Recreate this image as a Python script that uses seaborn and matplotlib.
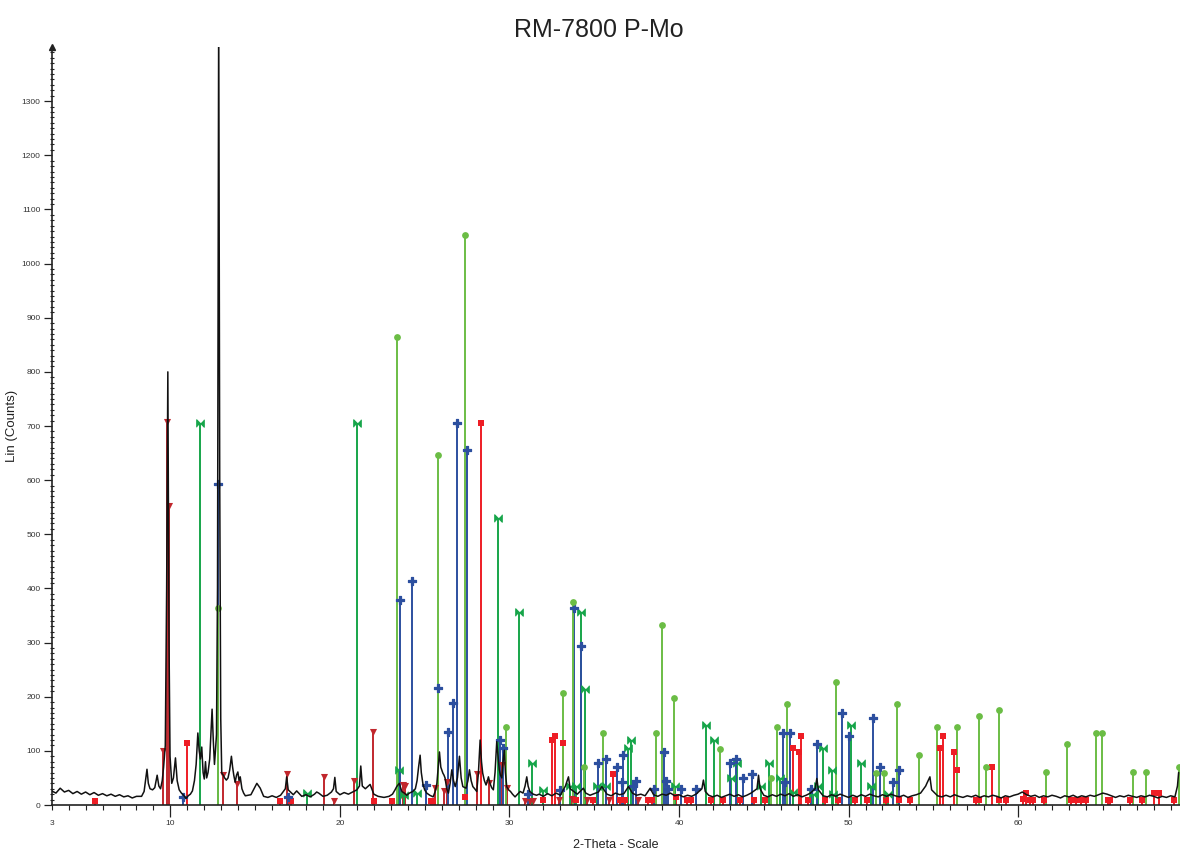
import numpy as np
import matplotlib
matplotlib.use("Agg")
import matplotlib.pyplot as plt
import matplotlib.transforms as mtransforms
import seaborn as sns

# ---------------------------------------------------------------------------
# Measured scan
# ---------------------------------------------------------------------------
# background level (counts) on a 0.25 deg grid, 3.0 .. 69.5 deg 2-theta
scan_start = 3.0
scan_step = 0.25
background = [
    26, 22, 31, 24, 27, 21, 25, 20, 24, 19, 23, 18, 21, 17, 20, 16, 19, 15, 17, 13, 16, 14,
    30, 32, 28, 40, 42, 120, 60, 60, 28, 18, 15, 22, 60, 90, 48, 60, 120, 200, 60, 48, 65, 50, 58, 26,
    16, 19, 22, 30, 16, 14, 17, 14, 18, 22, 15, 19, 22, 16, 19, 15, 20, 22, 16, 18, 24, 30, 19, 23,
    20, 24, 28, 50, 30, 34, 20, 16, 14,
    15, 18, 28, 40, 22, 20, 24, 35, 85, 28, 20, 15, 50, 65, 40, 40, 40, 80, 34, 38, 45, 28, 110, 48,
    50, 30, 117, 52, 95, 26, 18, 21, 23, 50, 24, 19,
    20, 16, 21, 17, 22, 18, 24, 28, 26, 20, 24, 22, 18, 21, 24, 26, 20, 17, 22, 19, 21, 26, 22, 18,
    20, 17, 24, 19, 16, 20, 18, 22, 17, 19, 15, 18, 16, 20, 24, 28, 18, 15, 18, 14, 17, 20, 16, 19,
    15, 18, 22, 26, 32, 18, 15, 19, 16, 20, 17, 21, 16, 19, 15, 18, 22, 28, 24, 17, 15, 19, 16, 20,
    17, 14, 18, 15, 19, 16, 20, 17, 15, 19, 16, 20, 17, 15, 18, 14, 17, 19, 22, 28, 40, 22, 17, 15,
    18, 15, 19, 16, 14, 17, 15, 18, 14, 17, 15, 18, 16, 13, 17, 15, 18, 20, 24, 19, 16, 18, 14, 17,
    15, 18, 16, 13, 17, 15, 18, 14, 17, 15, 18, 16, 19, 22, 20, 17, 14, 17, 15, 18, 16, 14, 17, 15,
    18, 16, 13, 16, 14, 17, 15, 40,
]

# shape vertices of the reflections in the scan (2-theta, counts)
profile_theta = [
    8.30, 8.45, 8.55, 8.62, 8.70, 8.80, 8.95, 9.08, 9.22, 9.32, 9.42, 9.52, 9.60, 9.70, 9.78,
    9.85, 9.92, 9.98, 10.08, 10.18, 10.30, 10.40, 10.52, 10.65, 10.78, 10.92, 11.05, 11.18, 11.30,
    11.42, 11.52, 11.62, 11.70, 11.77, 11.85, 11.93, 12.00, 12.07, 12.14, 12.22, 12.32, 12.40,
    12.46, 12.53, 12.60, 12.66, 12.72, 12.78, 12.85, 12.91, 12.97, 13.03, 13.12, 13.20, 13.30,
    13.40, 13.50, 13.60, 13.67, 13.74, 13.82, 13.90, 13.98, 14.05, 14.12, 14.22, 14.32, 14.42,
    15.10, 15.30, 16.78, 16.86, 16.95, 17.45, 18.63, 19.62, 19.70, 19.78, 21.15, 21.23, 21.32,
    21.78,
    22.60, 22.90, 23.10, 23.25, 23.35, 23.50, 23.65, 23.80, 23.94, 24.10, 24.30, 24.45, 24.55,
    24.64, 24.73, 24.80, 24.90, 25.00, 25.12, 25.30, 25.50, 25.62, 25.72, 25.80, 25.87, 25.95,
    26.07, 26.14, 26.20, 26.30, 26.40, 26.50, 26.60, 26.70, 26.80, 26.93, 27.05, 27.15, 27.25,
    27.44, 27.55, 27.64, 27.74, 27.84, 27.95, 28.07, 28.17, 28.27, 28.35, 28.42, 28.52, 28.62,
    28.70, 28.76, 28.85, 28.95, 29.05, 29.15, 29.25, 29.33, 29.40, 29.47, 29.55, 29.62, 29.70,
    29.76, 29.84, 29.95, 30.06, 30.18, 30.33, 30.48, 30.63, 30.80, 30.92, 31.02, 31.10, 31.20,
    31.40, 31.60,
    33.30, 33.48, 33.58, 34.36, 35.45, 37.02, 38.30, 41.35, 41.44, 41.55, 44.60, 44.69, 44.78,
    48.03, 48.13, 48.22, 54.55, 54.62, 54.80, 54.90, 69.40, 69.47,
]
profile_counts = [
    16, 25, 50, 66, 40, 30, 28, 32, 55, 35, 30, 45, 70, 110, 400,
    800, 300, 90, 40, 50, 87, 45, 28, 22, 18, 12, 17, 20, 26,
    45, 75, 133, 100, 85, 107, 60, 48, 80, 50, 60, 85, 140,
    177, 120, 75, 101, 130, 400, 1480, 600, 160, 59, 55, 50, 46,
    50, 65, 90, 70, 55, 42, 55, 61, 45, 52, 30, 22, 17,
    40, 31, 30, 52, 28, 26, 24, 30, 51, 25, 35, 72, 35,
    38,
    14, 16, 20, 28, 34, 40, 25, 22, 18, 22, 25, 30, 45,
    70, 92, 60, 38, 28, 22, 18, 15, 25, 40, 70, 98, 70,
    59, 55, 50, 30, 22, 40, 65, 45, 34, 50, 90, 50, 34,
    31, 45, 65, 45, 34, 30, 25, 60, 120, 80, 59, 45, 37,
    45, 52, 40, 32, 28, 60, 117, 90, 65, 55, 50, 80, 101,
    60, 34, 28, 25, 20, 15, 20, 25, 22, 35, 52, 35, 25,
    20, 18,
    35, 52, 30, 31, 34, 34, 31, 30, 46, 25, 30, 55, 30,
    30, 49, 28, 35, 40, 52, 28, 35, 60,
]

# ---------------------------------------------------------------------------
# Reference patterns (2-theta, counts)
# ---------------------------------------------------------------------------
phase_a_theta = [9.55, 9.82, 9.94, 13.09, 13.91, 16.90, 19.08, 19.65, 20.85, 21.94, 23.74, 23.82,
                 25.60, 26.14, 26.30, 28.07, 28.80, 29.55, 29.84, 30.92, 31.20, 31.41, 32.90,
                 33.70, 34.60, 35.90, 37.60]
phase_a_lin = [100, 707, 553, 55, 38, 58, 52, 8, 44, 135, 37, 35,
               31, 25, 43, 58, 41, 73, 31, 8, 8, 8, 10,
               12, 10, 10, 10]

phase_b_theta = [5.55, 10.97, 16.47, 17.14, 22.02, 23.10, 25.35, 25.50, 27.38, 28.31, 32.00, 32.50,
                 32.68, 33.15, 33.90, 34.90, 36.10, 36.50, 36.80, 38.20, 38.40, 39.80, 40.50,
                 40.70, 41.90, 42.60, 43.60, 44.40, 45.10, 46.72, 47.09, 47.17, 47.60, 48.60,
                 49.40, 50.40, 51.10, 52.20, 53.00, 53.60, 55.39, 55.58, 56.23, 56.41, 57.50,
                 57.70, 58.46, 58.90, 59.30, 60.30, 60.46, 60.70, 60.90, 61.50, 63.10, 63.40,
                 63.70, 64.00, 65.30, 65.45, 66.60, 67.30, 68.03, 68.33, 69.20]
phase_b_lin = [8, 114, 8, 8, 8, 8, 8, 8, 15, 706, 10, 120,
               128, 114, 10, 10, 57, 9, 9, 9, 9, 15, 9,
               9, 9, 9, 9, 9, 10, 106, 98, 127, 9, 9,
               9, 9, 9, 9, 9, 9, 106, 127, 98, 65, 9,
               9, 71, 9, 9, 12, 22, 9, 9, 9, 9, 9,
               9, 9, 9, 9, 9, 9, 22, 22, 9]

phase_c_theta = [11.75, 18.04, 20.99, 23.49, 23.78, 24.55, 29.33, 30.57, 31.35, 32.00, 33.58, 33.90,
                 34.20, 34.46, 35.19, 35.68, 36.98, 37.18, 39.77, 41.60, 42.07, 43.08, 43.45,
                 44.85, 45.32, 45.93, 46.75, 47.91, 48.19, 48.49, 49.05, 49.10, 50.16, 50.75,
                 51.34, 52.32]
phase_c_lin = [705, 22, 705, 65, 18, 23, 530, 356, 78, 28, 36, 36,
               356, 215, 36, 36, 106, 120, 36, 148, 120, 50, 78,
               36, 78, 50, 24, 20, 36, 106, 65, 20, 148, 78,
               36, 20]

phase_d_theta = [10.75, 12.83, 16.94, 23.55, 24.24, 25.08, 25.81, 26.36, 26.66, 26.89, 27.50, 29.45,
                 29.64, 31.12, 33.00, 33.79, 34.22, 35.25, 35.68, 36.33, 36.63, 36.72, 37.28,
                 37.45, 38.50, 39.12, 39.24, 39.38, 40.10, 40.99, 43.02, 43.37, 43.77, 44.30,
                 46.14, 46.26, 46.52, 47.78, 48.15, 49.64, 50.01, 51.45, 51.85, 52.63, 52.97]
phase_d_lin = [15, 593, 15, 378, 413, 37, 217, 134, 189, 706, 656, 120,
               106, 20, 28, 364, 294, 78, 85, 71, 43, 92, 36,
               44, 29, 98, 44, 29, 29, 29, 78, 85, 50, 57,
               133, 43, 133, 29, 113, 169, 127, 161, 71, 43, 65]

phase_e_theta = [12.83, 23.39, 25.77, 27.38, 29.78, 33.18, 33.77, 34.42, 35.54, 38.63, 39.00, 39.71,
                 42.43, 45.44, 45.80, 46.36, 49.27, 51.61, 52.10, 52.83, 54.17, 55.23, 56.41,
                 57.72, 58.12, 58.87, 61.66, 62.90, 64.57, 64.97, 66.80, 67.56, 69.50]
phase_e_lin = [364, 865, 647, 1053, 144, 207, 375, 71, 133, 133, 332, 197,
               103, 50, 144, 186, 228, 60, 60, 186, 92, 144, 144,
               165, 71, 175, 61, 113, 133, 133, 61, 61, 71]

# horizontal bow-tie marker
bowtie = [(-1, -1), (-1, 1), (1, -1), (1, 1)]

# (theta, counts, colour, marker, marker area, marker edge width)
phases = [
    (phase_a_theta, phase_a_lin, "#c1272d", "v", 26, 0.0),
    (phase_b_theta, phase_b_lin, "#ee1d25", "s", 22, 0.0),
    (phase_c_theta, phase_c_lin, "#17a54a", bowtie, 30, 0.7),
    (phase_d_theta, phase_d_lin, "#2c4f9f", "P", 26, 0.9),
    (phase_e_theta, phase_e_lin, "#6bbd45", "o", 24, 0.0),
]

# ---------------------------------------------------------------------------
# Assemble the scan polyline
# ---------------------------------------------------------------------------
grid = scan_start + scan_step * np.arange(len(background))
feat = np.asarray(profile_theta)
keep = np.min(np.abs(grid[:, None] - feat[None, :]), axis=1) > 0.12
scan_x = np.concatenate([grid[keep], feat])
scan_y = np.concatenate([np.asarray(background, float)[keep], np.asarray(profile_counts, float)])
order = np.argsort(scan_x, kind="stable")
scan_x, scan_y = scan_x[order], scan_y[order]

# ---------------------------------------------------------------------------
# Figure
# ---------------------------------------------------------------------------
sns.set_theme(style="white")
plt.rcParams["font.family"] = ["Liberation Sans", "DejaVu Sans"]

fig = plt.figure(figsize=(11.8, 8.52), dpi=100)
ax = fig.add_axes([51.7 / 1180, 47 / 852, (1180 - 51.7) / 1180, (805 - 47) / 852])

for theta, lin, color, marker, size, edge in phases:
    ax.vlines(theta, 0, lin, colors=color, linewidth=1.4, zorder=2)
for theta, lin, color, marker, size, edge in phases:
    sns.scatterplot(x=theta, y=lin, ax=ax, color=color, marker=marker, s=size,
                    edgecolor=color, linewidth=edge, zorder=3, legend=False, clip_on=False)

sns.lineplot(x=scan_x, y=scan_y, ax=ax, color="#111111", linewidth=1.1,
             estimator=None, sort=False, zorder=4)

ax.set_xlim(3, 69.55)
ax.set_ylim(0, 1400)

ax.set_xticks([10, 20, 30, 40, 50, 60])
ax.set_xticks(np.arange(3, 70, 1), minor=True)
ax.set_yticks(np.arange(0, 1400, 100))
ax.set_yticks(np.arange(0, 1400, 10), minor=True)

tick_col = "#333333"
ax.tick_params(axis="x", which="major", direction="out", length=8.5, width=0.9,
               color="#222222", labelsize=6, labelcolor=tick_col, pad=2, bottom=True)
ax.tick_params(axis="x", which="minor", direction="out", length=3.5, width=0.8,
               color="#222222", bottom=True)
ax.tick_params(axis="y", which="major", direction="out", length=5.5, width=0.9,
               color="#222222", labelsize=6, labelcolor=tick_col, pad=2.5, left=True)
ax.tick_params(axis="y", which="minor", direction="inout", length=3.5, width=0.8,
               color="#222222", left=True)

# label for the start of the scan range
start_lbl = mtransforms.offset_copy(ax.get_xaxis_transform(), fig=fig, y=-10.5, units="points")
ax.text(3, 0, "3", transform=start_lbl, ha="center", va="top", fontsize=6, color=tick_col)

for side in ("top", "right"):
    ax.spines[side].set_visible(False)
for side in ("left", "bottom"):
    ax.spines[side].set_color("#222222")
    ax.spines[side].set_linewidth(1.2)

# arrow head at the top of the intensity axis
ax.plot([3], [1400], marker="^", markersize=4, color="#222222", clip_on=False, zorder=5)

ax.set_xlabel("2-Theta - Scale", fontsize=9, color="#222222", labelpad=6)
ax.set_ylabel("Lin (Counts)", fontsize=9.5, color="#222222", labelpad=12)
ax.xaxis.set_label_coords(0.5, -0.045)
ax.yaxis.set_label_coords(-0.03, 0.5)

fig.text(599 / 1180, 1 - 30 / 852, "RM-7800 P-Mo", ha="center", va="center",
         fontsize=18, color="#222222")

fig.savefig("out.png", dpi=100)
